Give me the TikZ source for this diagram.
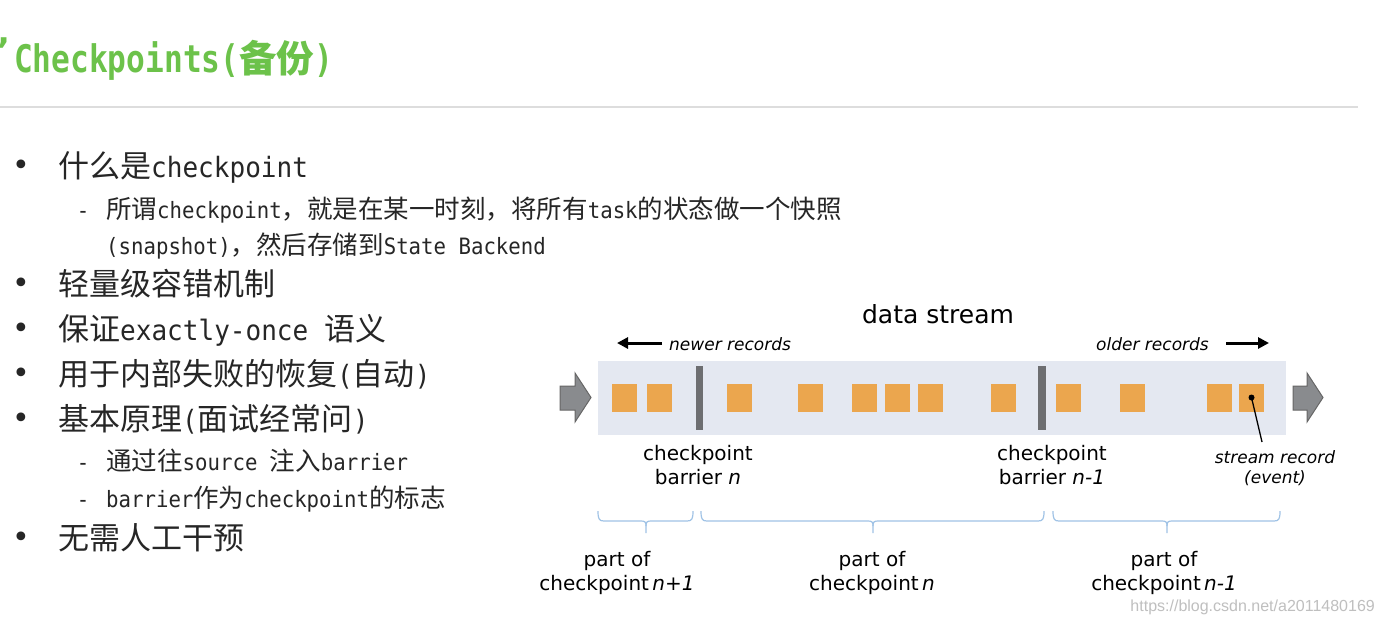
\documentclass[tikz,border=0pt]{standalone}
\usepackage{fontspec}
\setmainfont{DejaVu Sans}
\newfontfamily\cjk{Noto Sans CJK SC}
\newfontfamily\monof[FakeStretch=0.93]{DejaVu Sans Mono}
\newfontfamily\monos[FakeStretch=0.92]{DejaVu Sans Mono}
\newfontfamily\titlef[FakeStretch=0.82]{DejaVu Sans Mono}
\newfontfamily\wmf{Liberation Sans}
\usetikzlibrary{arrows.meta}
\definecolor{titlegreen}{RGB}{108,194,74}
\definecolor{txt}{RGB}{38,38,38}
\definecolor{streambg}{RGB}{228,232,241}
\definecolor{rec}{RGB}{235,166,78}
\definecolor{barrierc}{RGB}{109,110,113}
\definecolor{blockarrow}{RGB}{137,139,142}
\definecolor{bracec}{RGB}{160,195,230}
\definecolor{rulec}{RGB}{221,221,221}
\newcommand\zhm[1]{{\cjk\fontsize{31}{31}\selectfont #1}}
\newcommand\zhs[1]{{\cjk\fontsize{25.5}{25.5}\selectfont #1}}
\newcommand\zht[1]{{\cjk\fontsize{37.5}{37.5}\selectfont #1}}
\newcommand\mybrace[3]{%
  \draw[bracestyle] (#1,511) .. controls (#1,519) and ({#1+1},521) .. ({#1+6},521)
    -- ({#2-5},521) .. controls ({#2-1},521) and (#2,522) .. (#2,526) -- (#2,533);
  \draw[bracestyle] (#2,526) .. controls (#2,522) and ({#2+1},521) .. ({#2+5},521)
    -- ({#3-6},521) .. controls ({#3-1},521) and (#3,519) .. (#3,511);}
\begin{document}
\begin{tikzpicture}[x=1pt,y={(0pt,-1pt)},
  mainitem/.style={anchor=base west,inner sep=0pt,text=txt,font=\monof\fontsize{28}{30}\selectfont},
  subitem/.style={anchor=base west,inner sep=0pt,text=txt,font=\monos\fontsize{22.5}{25}\selectfont},
  bulletmark/.style={anchor=base,inner sep=0pt,text=txt,font=\fontsize{30}{30}\selectfont},
  dashmark/.style={anchor=base,inner sep=0pt,text=txt,font=\monos\fontsize{22.5}{25}\selectfont},
  record/.style={fill=rec,minimum width=25pt,minimum height=28pt,inner sep=0pt},
  barrier/.style={fill=barrierc,minimum width=7.5pt,minimum height=64pt,inner sep=0pt},
  dlabel/.style={inner sep=0pt,align=center,text=black,font=\fontsize{20}{24}\selectfont},
  ilabel/.style={inner sep=0pt,text=black,font=\itshape\fontsize{17}{20}\selectfont},
  dirarrow/.style={line width=3pt,-{Triangle[length=11pt,width=11pt]}},
  bracestyle/.style={draw=bracec,line width=1.2pt},
  blockarr/.style={fill=blockarrow,draw=black!60,line width=1pt,line join=miter}]
\useasboundingbox (0,0) rectangle (1383,622);
\fill[white] (0,0) rectangle (1383,622);

% title
\node[text=titlegreen,inner sep=0pt,anchor=base,font=\bfseries\fontsize{34}{34}\selectfont] (tick) at (4,62) {’};
\node[anchor=base west,inner sep=0pt,text=titlegreen,font=\titlef\bfseries\fontsize{38}{38}\selectfont] (title) at (14,72) {Checkpoints(\zht{备份})};
\draw[rulec,line width=2pt] (0,107) -- (1358,107);

% list
\node[bulletmark] (u1) at (21,175) {•};
\node[mainitem] (b1) at (58,177) {\zhm{什么是}checkpoint};
\node[dashmark] (d1) at (83,218) {-};
\node[subitem] (s1) at (106,218) {\zhs{所谓}checkpoint\zhs{，就是在某一时刻，将所有}task\zhs{的状态做一个快照}};
\node[subitem] (s2) at (106,254) {(snapshot)\zhs{，然后存储到}State Backend};
\node[bulletmark] (u2) at (21,293.5) {•};
\node[mainitem] (b2) at (58,295) {\zhm{轻量级容错机制}};
\node[bulletmark] (u3) at (21,338.5) {•};
\node[mainitem] (b3) at (58,340) {\zhm{保证}exactly-once \zhm{语义}};
\node[bulletmark] (u4) at (21,383.5) {•};
\node[mainitem] (b4) at (58,385) {\zhm{用于内部失败的恢复}(\zhm{自动})};
\node[bulletmark] (u5) at (21,428.5) {•};
\node[mainitem] (b5) at (58,430) {\zhm{基本原理}(\zhm{面试经常问})};
\node[dashmark] (d2) at (83,470) {-};
\node[subitem] (s3) at (106,470) {\zhs{通过往}source \zhs{注入}barrier};
\node[dashmark] (d3) at (83,507) {-};
\node[subitem] (s4) at (106,507) {barrier\zhs{作为}checkpoint\zhs{的标志}};
\node[bulletmark] (u6) at (21,547) {•};
\node[mainitem] (b6) at (58,549) {\zhm{无需人工干预}};

% diagram
\node[anchor=base,inner sep=0pt,font=\fontsize{25}{25}\selectfont] (ds) at (938,323) {data stream};
\node[ilabel,anchor=base west] (newer) at (669,350) {newer records};
\node[ilabel,anchor=base east] (older) at (1209,350) {older records};
\coordinate (nA) at (662,343);
\coordinate (nB) at (617,343);
\coordinate (oA) at (1226,343);
\coordinate (oB) at (1269,343);
\draw[dirarrow] (nA) -- (nB);
\draw[dirarrow] (oA) -- (oB);

\fill[streambg] (598,361) rectangle (1286,435);
\path[blockarr] (560,386) -- (575,386) -- (575,373) -- (591,397.5) -- (575,422) -- (575,410) -- (560,410) -- cycle;
\path[blockarr] (1293,386) -- (1307,386) -- (1307,373) -- (1323,397.5) -- (1307,422) -- (1307,410) -- (1293,410) -- cycle;

\foreach \x [count=\i] in {612,647,727,798,852,885,918,991,1056,1120,1207,1239}
  \node[record] (r\i) at (\x+12.5,397.5) {};
\node[barrier] (bar1) at (699.5,398) {};
\node[barrier] (bar2) at (1042,398) {};

\node[dlabel,anchor=north] (cb1) at (698,445.5) {checkpoint\\barrier \textit{n}};
\node[dlabel,anchor=north] (cb2) at (1052,445.5) {checkpoint\\barrier \textit{n-1}};
\node[ilabel,anchor=north,align=center] (sr) at (1275,450) {stream record\\(event)};
\fill (r12.center) circle (3pt);
\coordinate (srtip) at (1262,442);
\draw[line width=1.3pt] (r12.center) -- (srtip);

% braces
\mybrace{598}{646}{693}
\mybrace{701}{873}{1044}
\mybrace{1053}{1167}{1280}
\node[dlabel,anchor=north] (p1) at (617,551) {part of\\checkpoint\,\textit{n+1}};
\node[dlabel,anchor=north] (p2) at (872,551) {part of\\checkpoint\,\textit{n}};
\node[dlabel,anchor=north] (p3) at (1164,551) {part of\\checkpoint\,\textit{n-1}};

\node[anchor=base east,inner sep=0pt,text=black!25,font=\wmf\fontsize{16}{16}\selectfont] (wm) at (1375,611) {https://blog.csdn.net/a2011480169};
\end{tikzpicture}
\end{document}
